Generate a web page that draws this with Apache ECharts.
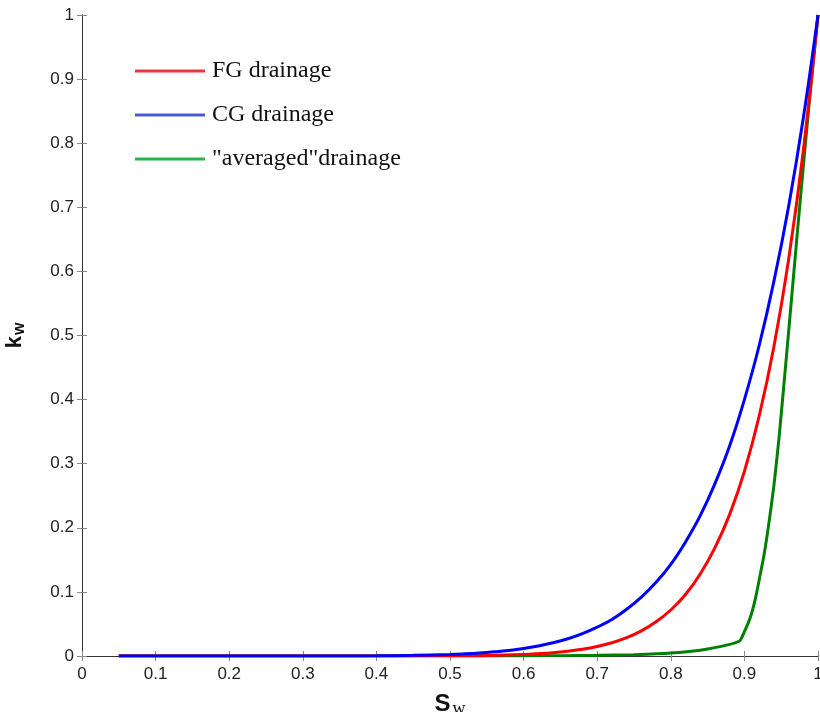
<!DOCTYPE html>
<html>
<head>
<meta charset="utf-8">
<script src="https://cdn.jsdelivr.net/npm/echarts@6/dist/echarts.min.js"></script>
<style>
  html, body { margin: 0; padding: 0; background: #fff; }
  #chart { width: 820px; height: 712px; }
</style>
</head>
<body>
<div id="chart"></div>
<script>
// CG drainage (blue)
const cgSw = [0.05, 0.1, 0.2, 0.3, 0.35, 0.4, 0.45, 0.5, 0.52, 0.54, 0.56, 0.58, 0.6, 0.62, 0.64, 0.66, 0.68, 0.7, 0.72, 0.74, 0.76, 0.78, 0.8, 0.82, 0.84, 0.86, 0.88, 0.9, 0.92, 0.94, 0.96, 0.98, 1.0]
const cgKw = [0, 0, 0, 0, 0.0001, 0.0003, 0.001, 0.0024, 0.0034, 0.0047, 0.0065, 0.0087, 0.0117, 0.0157, 0.0207, 0.027, 0.035, 0.045, 0.057, 0.073, 0.092, 0.115, 0.143, 0.178, 0.219, 0.269, 0.328, 0.4, 0.484, 0.584, 0.701, 0.839, 1.0]
// FG drainage (red)
const fgSw = [0.05, 0.3, 0.5, 0.55, 0.6, 0.62, 0.64, 0.66, 0.68, 0.7, 0.72, 0.74, 0.76, 0.78, 0.8, 0.82, 0.84, 0.86, 0.88, 0.9, 0.92, 0.94, 0.96, 0.98, 1.0]
const fgKw = [0, 0, 0.0003, 0.00085, 0.0024, 0.0036, 0.0052, 0.0075, 0.0105, 0.0148, 0.0206, 0.0286, 0.0393, 0.0535, 0.0718, 0.096, 0.128, 0.169, 0.221, 0.288, 0.374, 0.482, 0.618, 0.788, 1.0]
// "averaged" drainage (green)
const avSw = [0.05, 0.3, 0.6, 0.65, 0.7, 0.75, 0.8, 0.85, 0.893, 0.9, 0.908, 0.915, 0.921, 0.927, 0.933, 0.94, 0.947, 0.955, 0.965, 0.975, 0.987, 1.0]
const avKw = [0, 0, 0.0001, 0.0004, 0.001, 0.002, 0.0045, 0.011, 0.023, 0.038, 0.06, 0.09, 0.124, 0.16, 0.205, 0.265, 0.34, 0.44, 0.57, 0.7, 0.85, 1.0]

const legendNames = ['FG drainage', 'CG drainage', '"averaged"drainage']

const pairs = (xs, ys) => xs.map((x, i) => [x, ys[i]])

const chart = echarts.init(document.getElementById('chart'))

const tickStyle = { show: true, inside: true, length: 5, lineStyle: { color: '#888', width: 1 } }
const lineStyle = { show: true, lineStyle: { color: '#333', width: 1 } }

const option = {
  animation: false,
  backgroundColor: '#fff',
  grid: { left: 82, right: 2, top: 15, bottom: 56, outerBoundsMode: 'none', containLabel: false },
  legend: {
    orient: 'vertical',
    left: 130,
    top: 54,
    itemGap: 20,
    itemWidth: 70,
    itemHeight: 3,
    icon: 'rect',
    textStyle: { fontFamily: 'Liberation Serif', fontSize: 24, color: '#111', padding: [0, 0, 0, 2] },
    data: [
      { name: legendNames[0], itemStyle: { color: '#e8383d' } },
      { name: legendNames[1], itemStyle: { color: '#4b5bd6' } },
      { name: legendNames[2], itemStyle: { color: '#2db34a' } }
    ]
  },
  xAxis: [
    {
      type: 'value', min: 0, max: 1, interval: 0.1,
      axisLine: lineStyle, axisTick: tickStyle, splitLine: { show: false },
      axisLabel: { fontFamily: 'Liberation Sans', fontSize: 17, color: '#222', margin: 10 },
      name: '{s|S}{w|w}',
      nameLocation: 'middle',
      nameGap: 34,
      nameTextStyle: {
        rich: {
          s: { fontFamily: 'Liberation Sans', fontWeight: 'bold', fontSize: 24, color: '#111' },
          w: { fontFamily: 'Liberation Serif', fontSize: 18, color: '#111', padding: [10, 0, 0, 2] }
        }
      }
    },
    {
      type: 'value', min: 0, max: 1, interval: 0.1, position: 'top',
      axisLine: lineStyle, axisTick: tickStyle, axisLabel: { show: false }, splitLine: { show: false }
    }
  ],
  yAxis: [
    {
      type: 'value', min: 0, max: 1, interval: 0.1,
      axisLine: lineStyle, axisTick: tickStyle, splitLine: { show: false },
      axisLabel: { fontFamily: 'Liberation Sans', fontSize: 17, color: '#222', margin: 8 },
      name: '{k|k}{w|w}',
      nameLocation: 'middle',
      nameGap: 54,
      nameRotate: 90,
      nameTextStyle: {
        rich: {
          k: { fontFamily: 'Liberation Sans', fontWeight: 'bold', fontSize: 22, color: '#111' },
          w: { fontFamily: 'Liberation Sans', fontWeight: 'bold', fontSize: 16, color: '#111', padding: [10, 0, 0, 1] }
        }
      }
    },
    {
      type: 'value', min: 0, max: 1, interval: 0.1, position: 'right',
      axisLine: lineStyle, axisTick: tickStyle, axisLabel: { show: false }, splitLine: { show: false }
    }
  ],
  series: [
    {
      name: legendNames[2], type: 'line', data: pairs(avSw, avKw),
      showSymbol: false, smooth: 0.2,
      lineStyle: { color: '#008000', width: 3 }, itemStyle: { color: '#008000' }
    },
    {
      name: legendNames[0], type: 'line', data: pairs(fgSw, fgKw),
      showSymbol: false, smooth: 0.4,
      lineStyle: { color: '#ff0000', width: 3 }, itemStyle: { color: '#ff0000' }
    },
    {
      name: legendNames[1], type: 'line', data: pairs(cgSw, cgKw),
      showSymbol: false, smooth: 0.4,
      lineStyle: { color: '#0000ff', width: 3 }, itemStyle: { color: '#0000ff' }
    }
  ]
}

chart.setOption(option)
</script>
</body>
</html>
